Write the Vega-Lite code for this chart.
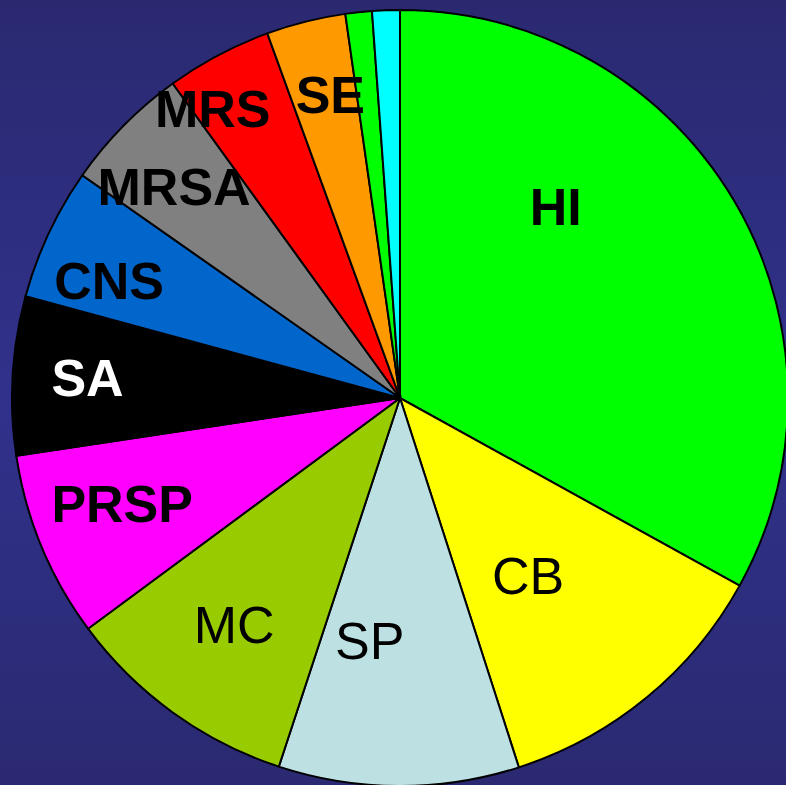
{
  "$schema": "https://vega.github.io/schema/vega-lite/v6.json",
  "autosize": "none",
  "padding": 0,
  "width": 800,
  "height": 796,
  "background": "#2c2b78",
  "view": {
    "stroke": null,
    "fill": {
      "gradient": "linear", "x1": 0, "y1": 0, "x2": 0, "y2": 1,
      "stops": [
        {"offset": 0, "color": "#2a2970"},
        {"offset": 0.5, "color": "#31318c"},
        {"offset": 1, "color": "#2a2970"}
      ]
    }
  },
  "data": {
    "values": [
      {"idx": 1, "label": "HI", "value": 33.0},
      {"idx": 2, "label": "CB", "value": 12.0},
      {"idx": 3, "label": "SP", "value": 10.0},
      {"idx": 4, "label": "MC", "value": 9.8},
      {"idx": 5, "label": "PRSP", "value": 7.75},
      {"idx": 6, "label": "SA", "value": 6.6},
      {"idx": 7, "label": "CNS", "value": 5.5},
      {"idx": 8, "label": "MRSA", "value": 5.3},
      {"idx": 9, "label": "MRS", "value": 4.4},
      {"idx": 10, "label": "SE", "value": 3.3},
      {"idx": 11, "label": "Other1", "value": 1.1},
      {"idx": 12, "label": "Other2", "value": 1.15}
    ]
  },
  "encoding": {
    "theta": {"field": "value", "type": "quantitative", "stack": true},
    "order": {"field": "idx", "type": "quantitative"},
    "detail": {"field": "label", "type": "nominal"}
  },
  "layer": [
    {
      "mark": {"type": "arc", "outerRadius": 388, "stroke": "#000000", "strokeWidth": 2},
      "encoding": {
        "color": {
          "field": "label", "type": "nominal", "legend": null,
          "scale": {
            "domain": ["HI", "CB", "SP", "MC", "PRSP", "SA", "CNS", "MRSA", "MRS", "SE", "Other1", "Other2"],
            "range": ["#00ff00", "#ffff00", "#bde0e3", "#99cc00", "#ff00ff", "#000000", "#0066cc", "#808080", "#ff0000", "#ff9900", "#00ff00", "#00ffff"]
          }
        }
      }
    },
    {
      "mark": {"type": "text", "radius": 245, "thetaOffset": -0.349, "font": "Liberation Sans", "fontSize": 52, "fontWeight": "bold", "fill": "#000000"},
      "encoding": {"text": {"condition": {"test": "datum.label === 'HI'", "field": "label"}, "value": ""}}
    },
    {
      "mark": {"type": "text", "radius": 298, "thetaOffset": 0.023, "font": "Liberation Sans", "fontSize": 52, "fontWeight": "bold", "fill": "#000000"},
      "encoding": {"text": {"condition": {"test": "datum.label === 'PRSP'", "field": "label"}, "value": ""}}
    },
    {
      "mark": {"type": "text", "radius": 313, "font": "Liberation Sans", "fontSize": 52, "fontWeight": "bold", "fill": "#ffffff"},
      "encoding": {"text": {"condition": {"test": "datum.label === 'SA'", "field": "label"}, "value": ""}}
    },
    {
      "mark": {"type": "text", "radius": 313, "thetaOffset": -0.061, "font": "Liberation Sans", "fontSize": 52, "fontWeight": "bold", "fill": "#000000"},
      "encoding": {"text": {"condition": {"test": "datum.label === 'CNS'", "field": "label"}, "value": ""}}
    },
    {
      "mark": {"type": "text", "radius": 308, "thetaOffset": -0.031, "font": "Liberation Sans", "fontSize": 52, "fontWeight": "bold", "fill": "#000000"},
      "encoding": {"text": {"condition": {"test": "datum.label === 'MRSA'", "field": "label"}, "value": ""}}
    },
    {
      "mark": {"type": "text", "radius": 343, "thetaOffset": -0.09, "font": "Liberation Sans", "fontSize": 52, "fontWeight": "bold", "fill": "#000000"},
      "encoding": {"text": {"condition": {"test": "datum.label === 'MRS'", "field": "label"}, "value": ""}}
    },
    {
      "mark": {"type": "text", "radius": 309, "thetaOffset": 0.018, "font": "Liberation Sans", "fontSize": 52, "fontWeight": "bold", "fill": "#000000"},
      "encoding": {"text": {"condition": {"test": "datum.label === 'SE'", "field": "label"}, "value": ""}}
    },
    {
      "mark": {"type": "text", "radius": 221, "thetaOffset": 0.07, "font": "Liberation Sans", "fontSize": 52, "fill": "#000000"},
      "encoding": {"text": {"condition": {"test": "datum.label === 'CB'", "field": "label"}, "value": ""}}
    },
    {
      "mark": {"type": "text", "radius": 247, "thetaOffset": 0.12, "font": "Liberation Sans", "fontSize": 52, "fill": "#000000"},
      "encoding": {"text": {"condition": {"test": "datum.label === 'SP'", "field": "label"}, "value": ""}}
    },
    {
      "mark": {"type": "text", "radius": 283, "font": "Liberation Sans", "fontSize": 52, "fill": "#000000"},
      "encoding": {"text": {"condition": {"test": "datum.label === 'MC'", "field": "label"}, "value": ""}}
    }
  ]
}
